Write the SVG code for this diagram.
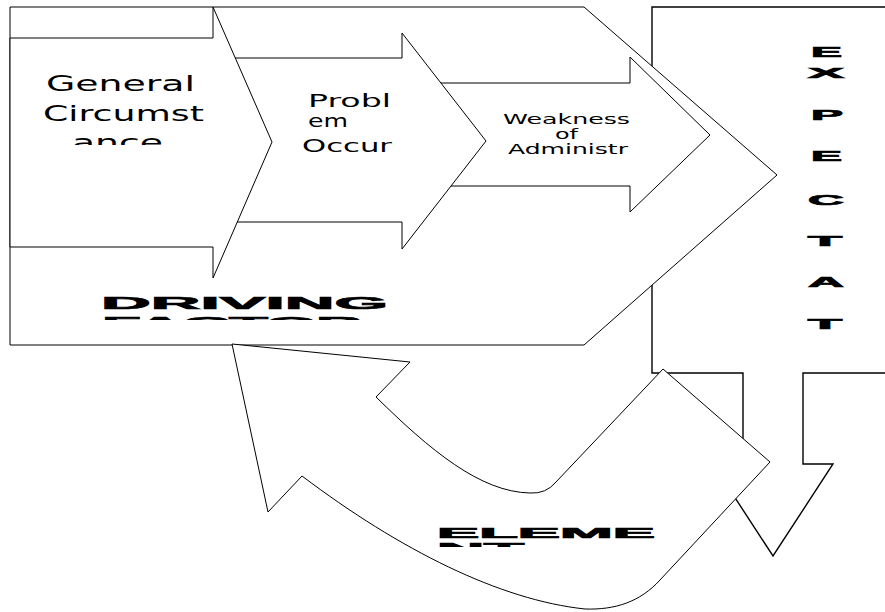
<svg xmlns="http://www.w3.org/2000/svg" width="885" height="612" viewBox="0 0 885 612">
<style>
.shape{fill:#fff;stroke:#000;stroke-width:1;stroke-linejoin:miter}
.box{fill:#fff;stroke:#000;stroke-width:1.4}
.t{font-family:"DejaVu Sans","Liberation Sans",sans-serif;fill:#000}
.b{font-family:"Liberation Sans",Arial,sans-serif;font-weight:bold;fill:#000;stroke:#000;stroke-width:0.7;stroke-linejoin:miter}
</style>
<defs>
<clipPath id="clipGen"><rect x="10" y="38" width="203" height="107"/></clipPath>
<clipPath id="clipDrive"><rect x="10" y="280" width="500" height="40"/></clipPath>
<clipPath id="clipElem"><rect x="400" y="515" width="300" height="32"/></clipPath>
</defs>
<rect width="885" height="612" fill="#fff"/>
<g id="expectation">
<path class="box" d="M652,7 H894 V373 H803 V464 H833 L773,556 L713,464 H743 V373 H652 Z"/>
<g class="b" font-size="14">
<text x="811" y="57" textLength="31" lengthAdjust="spacingAndGlyphs">E</text>
<text x="808" y="78" textLength="36" lengthAdjust="spacingAndGlyphs">X</text>
<text x="811" y="120" textLength="32" lengthAdjust="spacingAndGlyphs">P</text>
<text x="811" y="161" textLength="31" lengthAdjust="spacingAndGlyphs">E</text>
<text x="808" y="205" textLength="36" lengthAdjust="spacingAndGlyphs">C</text>
<text x="808" y="246" textLength="34" lengthAdjust="spacingAndGlyphs">T</text>
<text x="808" y="287" textLength="36" lengthAdjust="spacingAndGlyphs">A</text>
<text x="808" y="329" textLength="34" lengthAdjust="spacingAndGlyphs">T</text>
</g>
</g>
<g id="driving-factor">
<path class="shape" d="M10,7 H584 L777,175 L584,345 H10 Z"/>
<g clip-path="url(#clipDrive)" class="b" font-size="17">
<text x="101" y="309" textLength="287" lengthAdjust="spacingAndGlyphs">DRIVING</text>
<text x="102" y="329" textLength="260" lengthAdjust="spacingAndGlyphs">FACTOR</text>
</g>
</g>
<g id="weakness">
<path class="shape" d="M420,83 H630 V57 L710,135 L630,212 V186 H420 Z"/>
<g class="t" font-size="14">
<text x="503" y="124" textLength="127" lengthAdjust="spacingAndGlyphs">Weakness</text>
<text x="555" y="139" textLength="23" lengthAdjust="spacingAndGlyphs">of</text>
<text x="508" y="154" textLength="120" lengthAdjust="spacingAndGlyphs">Administr</text>
</g>
</g>
<g id="problem">
<path class="shape" d="M215,58 H402 V33 L486,141 L402,249 V222 H215 Z"/>
<g class="t" font-size="17">
<text x="308" y="107" textLength="83" lengthAdjust="spacingAndGlyphs">Probl</text>
<text x="308" y="127" textLength="40" lengthAdjust="spacingAndGlyphs">em</text>
<text x="302" y="152" textLength="90" lengthAdjust="spacingAndGlyphs">Occur</text>
</g>
</g>
<g id="general">
<path class="shape" d="M10,38 H213 V7 L272,142 L213,278 V247 H10 Z"/>
<g clip-path="url(#clipGen)" class="t" font-size="22">
<text x="46" y="91" textLength="149" lengthAdjust="spacingAndGlyphs">General</text>
<text x="43" y="121" textLength="161" lengthAdjust="spacingAndGlyphs">Circumst</text>
<text x="72" y="150" textLength="91" lengthAdjust="spacingAndGlyphs">ance</text>
</g>
</g>
<g id="element">
<path class="shape" d="M232,344 L410,362 L376,397 C430,450 480,492 530,493 Q546,494 556,482 L663,369 L770,462 L660,580 C640,602 615,610 585,609 C500,600 400,550 302,476 L268,512 Z"/>
<g clip-path="url(#clipElem)" class="b" font-size="14">
<text x="437" y="538" textLength="218" lengthAdjust="spacingAndGlyphs">ELEME</text>
<text x="437" y="553" textLength="87" lengthAdjust="spacingAndGlyphs">NT</text>
</g>
</g>
<g id="connectors"/>
</svg>
